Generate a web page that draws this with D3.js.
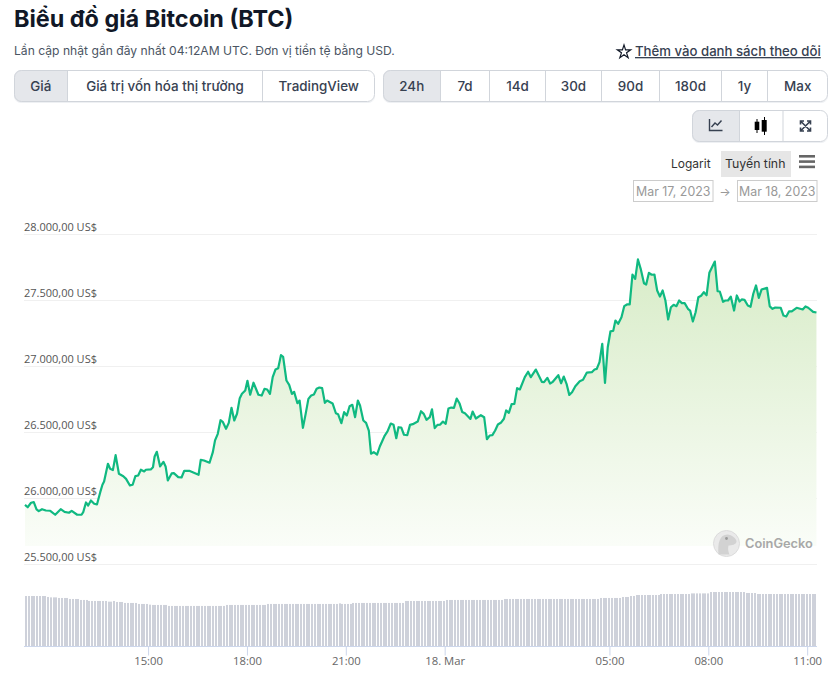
<!DOCTYPE html>
<html lang="vi">
<head>
<meta charset="utf-8">
<title>Biểu đồ giá Bitcoin (BTC)</title>
<script src="https://cdn.jsdelivr.net/npm/d3@7"></script>
<style>
  html, body { margin: 0; padding: 0; background: #fff; overflow: hidden; }
  svg { display: block; font-family: Inter, "Noto Sans", sans-serif; }
</style>
</head>
<body>
<script>
// minutes after 17 Mar 11:15
var minutes = [0,5,11,16,21,25,31,38,46,55,65,72,80,85,95,103,106,111,115,120,126,131,137,141,144,151,155,160,165,171,179,184,191,196,201,206,211,217,220,229,233,236,240,246,252,256,260,267,271,279,285,290,299,316,320,326,336,342,346,351,356,360,366,371,376,381,386,391,395,401,405,410,416,425,431,436,441,446,451,456,461,466,470,476,481,486,490,496,500,506,511,516,521,526,531,536,541,546,550,560,566,570,576,581,586,591,596,601,606,610,616,621,626,630,635,641,646,655,660,666,671,676,680,685,690,696,701,706,715,721,726,731,737,741,746,751,756,761,766,771,776,781,786,791,796,801,811,815,821,830,836,841,846,851,856,861,867,872,876,881,886,891,896,901,910,916,921,930,941,945,951,956,961,971,976,981,986,991,996,1002,1010,1016,1023,1032,1037,1041,1046,1051,1056,1061,1066,1071,1075,1080,1086,1091,1096,1101,1106,1111,1116,1121,1127,1131,1136,1141,1146,1151,1156,1161,1166,1171,1176,1181,1186,1191,1196,1201,1207,1211,1216,1221,1226,1231,1236,1241,1246,1256,1261,1265,1271,1275,1280,1285,1291,1296,1301,1305,1310,1316,1321,1326,1331,1336,1341,1351,1356,1361,1366,1376,1381,1386,1391,1396,1405,1416,1421,1426,1435,1441];
var prices = [25952,25934,25968,25972,25917,25904,25919,25909,25907,25877,25919,25899,25892,25907,25877,25877,25896,25970,25947,25985,25960,25955,26048,26104,26129,26263,26225,26215,26328,26187,26169,26149,26099,26104,26169,26174,26218,26205,26218,26220,26237,26318,26354,26243,26278,26243,26137,26190,26192,26162,26159,26210,26210,26180,26293,26288,26271,26351,26440,26490,26593,26581,26528,26573,26687,26591,26642,26760,26793,26818,26892,26786,26877,26786,26780,26831,26826,26793,26919,26977,26987,27086,27073,26894,26861,26793,26808,26722,26742,26535,26641,26755,26780,26788,26831,26841,26836,26725,26742,26720,26646,26639,26571,26654,26629,26699,26710,26616,26742,26705,26591,26573,26515,26339,26351,26333,26394,26477,26508,26568,26558,26457,26540,26538,26483,26480,26558,26563,26583,26661,26641,26596,26616,26676,26533,26558,26560,26583,26566,26682,26689,26687,26757,26722,26656,26646,26603,26659,26606,26631,26616,26449,26477,26480,26515,26561,26576,26604,26667,26649,26715,26717,26836,26826,26919,26960,26919,26977,26884,26881,26914,26871,26884,26934,26873,26924,26869,26785,26805,26851,26889,26899,26954,26957,26977,26982,27033,27172,26876,27146,27267,27270,27348,27323,27373,27457,27470,27470,27697,27664,27811,27740,27631,27621,27710,27695,27697,27576,27530,27576,27500,27356,27449,27467,27457,27500,27480,27480,27437,27424,27341,27411,27525,27536,27563,27540,27710,27795,27570,27568,27490,27500,27500,27530,27424,27538,27492,27508,27505,27462,27452,27551,27614,27520,27583,27596,27455,27437,27447,27445,27386,27379,27417,27417,27445,27432,27455,27445,27414,27409];
// rolling volume, one bar per 5 minutes
var volumes = [50.7,50.7,50.7,50.7,50.7,50.7,50.7,50.7,49.7,49.3,49.3,49.3,48.7,48.7,48.7,48.7,47.7,47.7,47.7,47.7,46.7,46.7,46.7,45.7,45.7,45.7,45.7,45.7,45.7,45.7,45,45,45.7,44.7,44.7,44.7,43.7,43.7,43.7,43.7,43.7,42.7,42.7,42.7,42.7,42,41.7,41.7,41.7,41.7,41.7,41.7,
  40.7,40.7,40.7,40.7,40.7,40.7,40.7,40.7,40.7,40.7,40.7,40.7,40.7,40.7,40.7,40.7,40.7,40.7,40.7,40.7,40.7,
  41.7,41.7,41.7,41.7,41.7,41.7,41.7,41.7,41.7,41.7,41.7,41.7,41.7,41.7,41.7,
  42.7,42.7,42.7,42.7,42.7,42.7,42.7,42.7,42.7,42.7,42.7,42.7,42.7,42.7,42.7,42.7,42.7,42.7,42.7,42.7,42.7,42.7,42.7,42.7,42.7,42.7,43.3,42.7,42.7,42.7,42.7,
  43.7,43.7,43.7,43.7,43.7,43.7,43.7,43.7,43.7,43.7,43.7,43.7,43.7,43.7,43.7,43.7,43.7,43.7,43.7,
  45.7,45.7,45.7,45.7,45.7,45.7,45.7,45.7,45.7,45.7,45.7,45.7,45.7,45.7,45.7,
  46.7,46.7,46.7,46.7,46.7,46.7,46.7,46.7,46.7,46.7,46.7,46.7,46.7,46.7,46.7,46.7,46.7,46.7,46.7,46.7,46.7,
  47.7,47.7,47.7,47.7,47.7,47.7,47.7,47.7,47.7,47.7,47.7,47.7,47.7,47.7,47.7,47.7,47.7,47.7,47.7,47.7,47.7,47.7,47.7,47.7,47.7,47.7,47.7,47.7,47.7,47.7,47.7,47.7,47.7,47.7,47.7,
  48.7,48.7,48.7,48.7,48.7,48.7,48.7,48.7,49.7,49.7,49.7,50.7,50.7,
  51.7,51.7,51.7,51.7,51.7,51.7,51.7,51.7,51.7,
  52.7,52.7,52.7,52.7,52.7,52.7,52.7,52.7,52.7,52.7,52.7,
  53.3,53.3,53.3,53.3,53.3,53.3,53.3,
  54.7,54.7,54.7,54.7,54.7,54.7,54.7,54.7,54.7,54.7,54.7,54.7,54.7,
  53.7,53.7,53.7,53.7,
  52.7,52.7,52.7,52.7,52.7,52.7,52.7,52.7,52.7,52.7,52.7,52.7,52.7,52.7,52.7,52.7,52.7,52.7,52.7,52.7,52.7,52.7];
var priceTicks = [25500,26000,26500,27000,27500,28000];
var timeTicks = [new Date(2023,2,17,15), new Date(2023,2,17,18), new Date(2023,2,17,21), new Date(2023,2,18,0), new Date(2023,2,18,5), new Date(2023,2,18,8), new Date(2023,2,18,11)];
var dataTabs = ["Giá", "Giá trị vốn hóa thị trường", "TradingView"];
var rangeTabs = ["24h", "7d", "14d", "30d", "90d", "180d", "1y", "Max"];

var startTime = new Date(2023,2,17,11,15);
var endTime = new Date(2023,2,18,11,17);
var toDate = function(m) { return new Date(+startTime + m * 60000); };

var svg = d3.select("body").append("svg").attr("width", 836).attr("height", 682);
var defs = svg.append("defs");

// scales
var x = d3.scaleTime().domain([startTime, endTime]).range([25, 817]);
var y = d3.scaleLinear().domain([25500, 28000]).range([564.5, 234.5]);
var volY = d3.scaleLinear().domain([0, 54.7]).range([646.5, 592]);
var volX = d3.scaleBand().domain(d3.range(volumes.length)).range([25, 817]);

// header
svg.append("text").attr("x", 14).attr("y", 27).attr("font-size", 23.4).attr("font-weight", 700)
  .attr("fill", "#111827").text("Biểu đồ giá Bitcoin (BTC)");
svg.append("text").attr("x", 14).attr("y", 55).attr("font-size", 12.13).attr("fill", "#4b5563")
  .text("Lần cập nhật gần đây nhất 04:12AM UTC. Đơn vị tiền tệ bằng USD.");
svg.append("path")
  .attr("d", d3.symbol(d3.symbolStar, 56)())
  .attr("transform", "translate(624,52)")
  .attr("fill", "none").attr("stroke", "#111827").attr("stroke-width", 1.2);
svg.append("text").attr("x", 635).attr("y", 56).attr("font-size", 13.2).attr("font-weight", 500)
  .attr("fill", "#374151").attr("text-decoration", "underline")
  .text("Thêm vào danh sách theo dõi");

// button groups
function buttonGroup(left, right, top, bottom, edges, active) {
  var g = svg.append("g");
  var clipId = "clip" + left;
  defs.append("clipPath").attr("id", clipId).append("rect")
    .attr("x", left).attr("y", top).attr("width", right - left).attr("height", bottom - top).attr("rx", 7);
  g.append("rect").attr("x", left).attr("y", top + 1).attr("width", right - left).attr("height", bottom - top)
    .attr("rx", 7).attr("fill", "#eef0f3");
  g.append("rect").attr("clip-path", "url(#" + clipId + ")")
    .attr("x", left).attr("y", top).attr("width", right - left).attr("height", bottom - top).attr("fill", "#fff");
  g.append("rect").attr("clip-path", "url(#" + clipId + ")")
    .attr("x", left).attr("y", top).attr("width", edges[active] - left).attr("height", bottom - top).attr("fill", "#e5e7eb");
  g.selectAll("line").data(edges).join("line")
    .attr("x1", function(d) { return d; }).attr("x2", function(d) { return d; })
    .attr("y1", top).attr("y2", bottom).attr("stroke", "#d1d5db");
  g.append("rect").attr("x", left + .5).attr("y", top + .5).attr("width", right - left - 1).attr("height", bottom - top - 1)
    .attr("rx", 7).attr("fill", "none").attr("stroke", "#d1d5db");
  return g;
}
function tabLabels(g, labels, stops, yy) {
  g.selectAll("text.tab").data(labels).join("text").attr("class", "tab")
    .attr("x", function(d, i) { return (stops[i] + stops[i + 1]) / 2; })
    .attr("y", yy).attr("text-anchor", "middle").attr("font-size", 13.4).attr("font-weight", 500)
    .attr("fill", "#374151").text(function(d) { return d; });
}
var dataStops = [14, 67.5, 262.5, 375];
tabLabels(buttonGroup(14, 375, 70, 102, [67.5, 262.5], 0), dataTabs, dataStops, 91);
var rangeStops = [383, 440.5, 489.5, 545.5, 601.5, 659.5, 721.5, 767.5, 828];
tabLabels(buttonGroup(383, 828, 70, 102, rangeStops.slice(1, -1), 0), rangeTabs, rangeStops, 91);
buttonGroup(692, 828, 110, 142, [739.5, 783], 0);

// toolbar icons
var icons = svg.append("g").attr("fill", "none").attr("stroke", "#374151").attr("stroke-width", 1.4);
icons.append("path").attr("d", "M709.5 119v11.5h13M711.5 127l3.5-4 2.5 2 4-4.5");
var candles = svg.append("g").attr("fill", "#000");
candles.append("path").attr("stroke", "#000").attr("d", "M757 119v14M764.5 117v18");
candles.append("rect").attr("x", 754.7).attr("y", 121.7).attr("width", 4.6).attr("height", 8.3);
candles.append("rect").attr("x", 761.7).attr("y", 120).attr("width", 5).attr("height", 11.7);
icons.append("path").attr("stroke-width", 1.6)
  .attr("d", "M800.5 121l10 10M810.5 121l-10 10M800.5 124.5v-3.5h3.5M807 121h3.5v3.5M810.5 127.5v3.5H807M804 131h-3.5v-3.5");

// scale selector and dates
svg.append("text").attr("x", 671).attr("y", 168).attr("font-size", 12).attr("fill", "#333").text("Logarit");
svg.append("rect").attr("x", 721).attr("y", 151).attr("width", 70).attr("height", 26).attr("fill", "#e6e6e6");
svg.append("text").attr("x", 725).attr("y", 168).attr("font-size", 12.3).attr("fill", "#333").text("Tuyến tính");
svg.selectAll("rect.menu").data([0, 1, 2]).join("rect").attr("class", "menu")
  .attr("x", 799).attr("y", function(d) { return 155 + d * 5.3; })
  .attr("width", 16).attr("height", 2.6).attr("fill", "#666");
[[633, 79.5, "Mar 17, 2023"], [737, 79.5, "Mar 18, 2023"]].forEach(function(b) {
  svg.append("rect").attr("x", b[0] + .5).attr("y", 180.5).attr("width", b[1]).attr("height", 21)
    .attr("fill", "#fff").attr("stroke", "#ccc");
  svg.append("text").attr("x", b[0] + b[1] / 2 + .5).attr("y", 196).attr("text-anchor", "middle")
    .attr("font-size", 12.4).attr("fill", "#999").text(b[2]);
});
svg.append("text").attr("x", 725).attr("y", 196).attr("text-anchor", "middle").attr("font-size", 12)
  .attr("fill", "#999").text("→");

// y axis with grid
var vnd = d3.formatLocale({ decimal: ",", thousands: ".", grouping: [3], currency: ["", " US$"] });
var yAxis = d3.axisLeft(y).tickValues(priceTicks).tickSize(0).offset(0).tickFormat(vnd.format("$,.2f"));
var yG = svg.append("g").call(yAxis);
yG.select(".domain").remove();
yG.selectAll("line").attr("x1", 24).attr("x2", 817).attr("stroke", "#f0f0f0");
yG.selectAll("text").attr("x", 24).attr("dy", -3.5).attr("text-anchor", "start")
  .attr("font-size", 11).attr("font-family", "'Open Sans', sans-serif").attr("fill", "#555");

// area and line
var grad = defs.append("linearGradient").attr("id", "areaFill").attr("x1", 0).attr("y1", 0).attr("x2", 0).attr("y2", 1);
grad.append("stop").attr("offset", 0).attr("stop-color", "#d8ecc8");
grad.append("stop").attr("offset", 1).attr("stop-color", "#fafdf8");

var points = minutes.map(function(m, i) { return { t: toDate(m), p: prices[i] }; });
var area = d3.area().x(function(d) { return x(d.t); }).y0(y(25640)).y1(function(d) { return y(d.p); });
var line = d3.line().x(function(d) { return x(d.t); }).y(function(d) { return y(d.p); });
svg.append("path").datum(points).attr("d", area).attr("fill", "url(#areaFill)");
svg.append("path").datum(points).attr("d", line).attr("fill", "none")
  .attr("stroke", "#10b981").attr("stroke-width", 2.2).attr("stroke-linejoin", "round");

// volume bars
svg.append("g").selectAll("rect").data(volumes).join("rect")
  .attr("x", function(d, i) { return Math.round(volX(i)); })
  .attr("width", 2)
  .attr("y", function(d) { return volY(d); })
  .attr("height", function(d) { return volY(0) - volY(d); })
  .attr("fill", "#ced1da");

// x axis
var xAxis = d3.axisBottom(x).tickValues(timeTicks).tickSize(9).tickPadding(1).offset(0)
  .tickFormat(function(d) { return d.getHours() === 0 ? "18. Mar" : d3.timeFormat("%H:%M")(d); });
var xG = svg.append("g").attr("transform", "translate(0,646.5)").call(xAxis);
xG.select(".domain").attr("d", "M24,0H817").attr("stroke", "#ccd6eb");
xG.selectAll("line").attr("stroke", "#ccd6eb");
xG.selectAll("text").attr("font-size", 11.3).attr("font-family", "'Open Sans', sans-serif").attr("fill", "#666");

// watermark
var mark = svg.append("g").attr("transform", "translate(726.5,543.5)");
mark.append("circle").attr("r", 13).attr("fill", "#eaeaea").attr("stroke", "#dcdcdc").attr("stroke-width", 1);
mark.append("path").attr("d", "M-8 11C-9 0-7-9 1-9C5-9 10-5 10-2C10 1 5 2 2 2C1 5 2 9 3 11Z").attr("fill", "#d2d2d2");
mark.append("circle").attr("cx", 0).attr("cy", -5).attr("r", 1.4).attr("fill", "#9a9a9a");
svg.append("text").attr("x", 745).attr("y", 548).attr("font-size", 12.8).attr("font-weight", 600)
  .attr("fill", "#a8a8a8").text("CoinGecko");
</script>
</body>
</html>
